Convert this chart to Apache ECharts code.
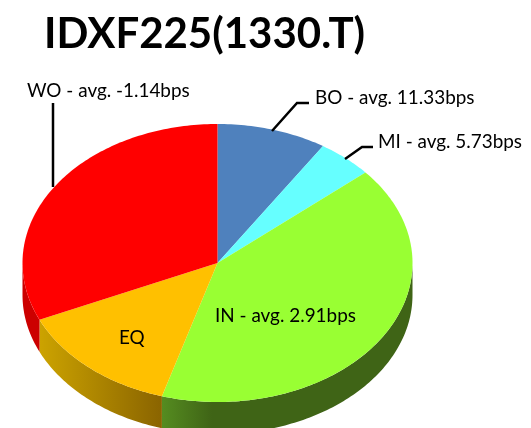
<!DOCTYPE html>
<html>
<head>
<meta charset="utf-8">
<style>
    html, body { margin: 0; padding: 0; background: #fff; }
    #chart { width: 531px; height: 428px; }
</style>
<script src="https://cdn.jsdelivr.net/npm/echarts@6/dist/echarts.min.js"></script>
</head>
<body>
<div id="chart"></div>
<script>
var chartTitle = 'IDXF225(1330.T)';
var categories = ['BO', 'MI', 'IN', 'EQ', 'WO'];
var weights = [9.1, 4.6, 40.9, 13.7, 31.7];
var avgBps = ['11.33', '5.73', '2.91', null, '-1.14'];
var topColors = ['#4f81bd', '#66ffff', '#99ff33', '#ffc000', '#ff0000'];

// 饼图的几何参数
var cx = 217.5, cy = 263, rx = 195, ry = 139, depth = 32;
var total = weights.reduce(function (a, b) { return a + b; }, 0);

function labelText(i) {
    return avgBps[i] === null ? categories[i] : categories[i] + ' - avg. ' + avgBps[i] + 'bps';
}

function startAngle(i) {
    var sum = 0;
    for (var k = 0; k < i; k++) {
        sum += weights[k];
    }
    return sum / total * 360;
}

// 角度从正上方开始，顺时针
function ellipsePoint(deg, dy) {
    var a = deg * Math.PI / 180;
    return [cx + rx * Math.sin(a), cy - ry * Math.cos(a) + dy];
}

function arcPoints(from, to, dy) {
    var pts = [];
    var n = Math.max(2, Math.ceil(Math.abs(to - from)));
    for (var i = 0; i <= n; i++) {
        pts.push(ellipsePoint(from + (to - from) * i / n, dy));
    }
    return pts;
}

function wallFill(name) {
    if (name === 'IN') {
        return new echarts.graphic.LinearGradient(0, 0, 1, 0, [
            {offset: 0, color: '#558c20'},
            {offset: 0.2, color: '#3f6416'},
            {offset: 1, color: '#3f6416'}
        ]);
    }
    if (name === 'EQ') {
        return new echarts.graphic.LinearGradient(0, 0, 1, 0, [
            {offset: 0, color: '#cca300'},
            {offset: 1, color: '#8a6400'}
        ]);
    }
    return '#cc0000';
}

/**
 * 画一块扇形：先画侧面，再画顶面
 */
function renderSlice(params, api) {
    var i = api.value(0);
    var from = startAngle(i);
    var to = from + weights[i] / total * 360;
    var children = [];
    var wallFrom = Math.max(from, 90);
    var wallTo = Math.min(to, 270);
    if (wallTo > wallFrom) {
        children.push({
            type: 'polygon',
            shape: {points: arcPoints(wallFrom, wallTo, 0).concat(arcPoints(wallTo, wallFrom, depth))},
            style: {fill: wallFill(categories[i])}
        });
    }
    children.push({
        type: 'polygon',
        shape: {points: [[cx, cy]].concat(arcPoints(from, to, 0))},
        style: {fill: topColors[i]}
    });
    return {type: 'group', children: children};
}

function makeLabel(i, x, y) {
    return {
        type: 'text',
        x: x,
        y: y,
        z: 10,
        style: {
            text: labelText(i),
            font: '18.9px Lato',
            fill: '#000',
            textVerticalAlign: 'middle'
        }
    };
}

function makeLeader(points) {
    return {
        type: 'polyline',
        z: 10,
        shape: {points: points},
        style: {stroke: '#000', lineWidth: 2.5, fill: null}
    };
}

function initChart() {
    var myChart = echarts.init(document.getElementById('chart'));
    var option = {
        animation: false,
        title: {
            text: chartTitle,
            left: 39,
            top: 8,
            textStyle: {fontFamily: 'Lato', fontSize: 42, fontWeight: 'bold', color: '#000'}
        },
        series: [{
            type: 'custom',
            coordinateSystem: 'none',
            silent: true,
            clip: false,
            data: categories.map(function (c, i) { return [i]; }),
            renderItem: renderSlice
        }],
        graphic: [
            makeLeader([[53, 187], [53, 103]]),
            makeLeader([[272, 131], [297, 103], [309, 103]]),
            makeLeader([[345, 159], [362, 147], [373, 147]]),
            makeLabel(4, 27, 91),
            makeLabel(0, 315, 98),
            makeLabel(1, 378, 142),
            makeLabel(2, 215, 316),
            makeLabel(3, 119, 338)
        ]
    };
    myChart.setOption(option);
}

initChart();
</script>
</body>
</html>
